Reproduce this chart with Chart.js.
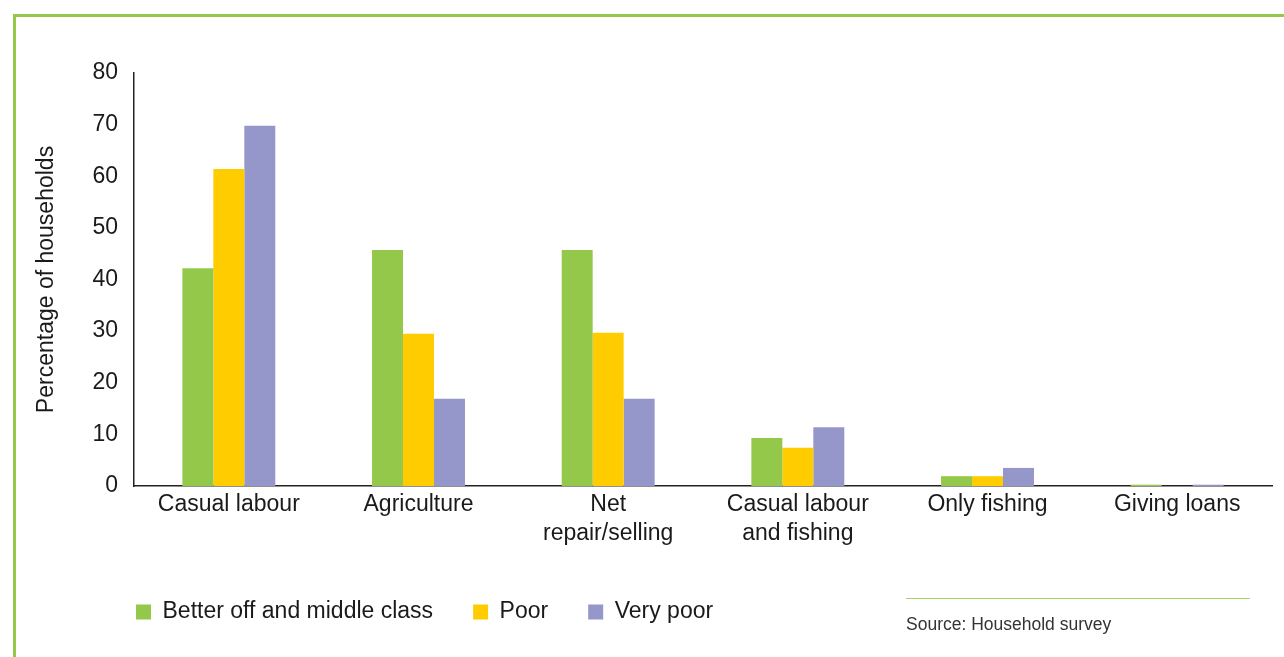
<!DOCTYPE html>
<html>
<head>
<meta charset="utf-8">
<script src="https://cdn.jsdelivr.net/npm/chart.js@4.4.1/dist/chart.umd.min.js"></script>
<style>
    body { margin: 0; background: #fff; font-family: "Liberation Sans", Arial, sans-serif; }
    #wrap { position: relative; width: 1284px; height: 657px; overflow: hidden; }
    #frame { position: absolute; left: 13px; top: 14px; width: 1300px; height: 700px;
        border-left: 3px solid #93c84a; border-top: 3px solid #93c84a; }
    #chart { position: absolute; left: 0; top: 0; }
    #srcline { position: absolute; left: 906px; top: 598px; width: 344px; height: 1px; background: #a3d16a; }
    #source { position: absolute; left: 906px; top: 614px; font-size: 17.5px; color: #333; }
</style>
</head>
<body>
<div id="wrap">
    <div id="frame"></div>
    <canvas id="chart" width="1284" height="657"></canvas>
    <div id="srcline"></div>
    <div id="source">Source: Household survey</div>
</div>
<script>
// categorias y series
const categories = ['Casual labour', 'Agriculture', ['Net', 'repair/selling'], ['Casual labour', 'and fishing'], 'Only fishing', 'Giving loans']
const betterOff = [42.2, 45.7, 45.7, 9.3, 1.9, 0.25]
const poor = [61.4, 29.5, 29.7, 7.4, 1.9, 0]
const veryPoor = [69.8, 16.9, 16.9, 11.4, 3.5, 0.25]
const yTicks = [0, 10, 20, 30, 40, 50, 60, 70, 80]

const txt = '#1a1a1a'
const font = 'Liberation Sans, Arial, sans-serif'
const legendPad = 40

// mueve la leyenda para que empiece donde en el original
const moveLegend = {
    id: 'moveLegend',
    afterLayout: chart => { chart.legend.left = 136 - legendPad }
}

new Chart('chart', {
    type: 'bar',
    data: {
        labels: categories,
        datasets: [
            { label: 'Better off and middle class', data: betterOff, backgroundColor: '#93c84a' },
            { label: 'Poor', data: poor, backgroundColor: '#ffcc00' },
            { label: 'Very poor', data: veryPoor, backgroundColor: '#9596c9' }
        ]
    },
    options: {
        responsive: false,
        animation: false,
        events: [],
        layout: { padding: { top: 73, right: 12, bottom: 23.5, left: 0 } },
        datasets: { bar: { categoryPercentage: 0.49, barPercentage: 1 } },
        plugins: {
            tooltip: { enabled: false },
            legend: {
                position: 'bottom',
                align: 'start',
                fullSize: false,
                labels: {
                    boxWidth: 15, boxHeight: 15, padding: legendPad,
                    color: txt, font: { family: font, size: 23 }
                }
            }
        },
        scales: {
            x: {
                grid: { display: false, drawTicks: false },
                border: { color: '#222', width: 1.5 },
                ticks: { color: txt, padding: 4, maxRotation: 0, autoSkip: false,
                    font: { family: font, size: 23, lineHeight: 1.26 } },
                afterFit: s => { s.height = 74.5 }
            },
            y: {
                min: 0, max: 80,
                afterBuildTicks: s => { s.ticks = yTicks.map(v => ({ value: v })) },
                grid: { display: false, drawTicks: false },
                border: { color: '#222', width: 1.5 },
                ticks: { color: txt, padding: 16, font: { family: font, size: 23 } },
                title: { display: true, text: 'Percentage of households', color: txt,
                    padding: { top: 33, bottom: 0 }, font: { family: font, size: 23 } },
                afterFit: s => { s.width = 134 }
            }
        }
    },
    plugins: [moveLegend]
})
</script>
</body>
</html>
